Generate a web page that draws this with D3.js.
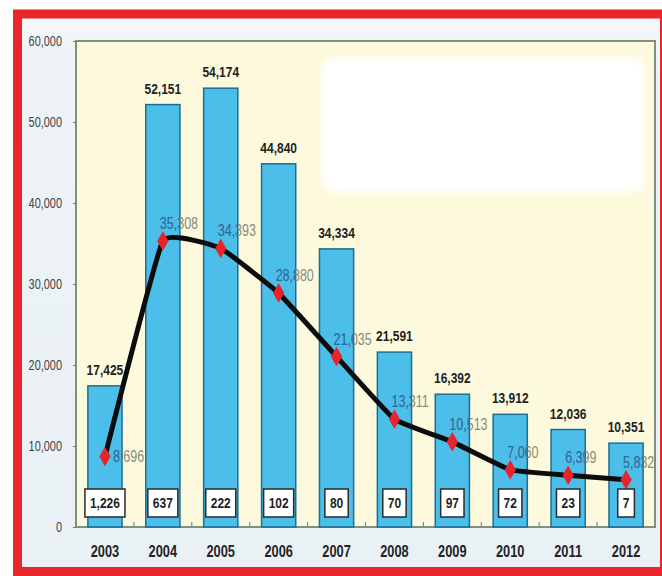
<!DOCTYPE html>
<html>
<head>
<meta charset="utf-8">
<script src="https://cdn.jsdelivr.net/npm/d3@7"></script>
<style>
  body { margin: 0; background: #fff; }
  svg { display: block; font-family: "Liberation Sans", Arial, sans-serif; }
</style>
</head>
<body>
<div id="chart"></div>
<script>
// values
const years = ["2003","2004","2005","2006","2007","2008","2009","2010","2011","2012"];
const barValues = [17425, 52151, 54174, 44840, 34334, 21591, 16392, 13912, 12036, 10351];
const lineValues = [8696, 35308, 34393, 28880, 21035, 13311, 10513, 7060, 6399, 5832];
const boxValues = [1226, 637, 222, 102, 80, 70, 97, 72, 23, 7];
const yTicks = [0, 10000, 20000, 30000, 40000, 50000, 60000];

const W = 662, H = 576;
const plot = { left: 76, right: 655, top: 41, bottom: 527 };
const fmt = d3.format(",");

// no narrow font installed: squeeze glyphs horizontally instead
function narrow(sel, k = 0.8) {
  sel.each(function() {
    const w = this.getComputedTextLength();
    d3.select(this).attr("textLength", w * k).attr("lengthAdjust", "spacingAndGlyphs");
  });
}

const svg = d3.select("#chart").append("svg").attr("width", W).attr("height", H);
const defs = svg.append("defs");
defs.append("filter").attr("id", "soft").append("feGaussianBlur").attr("stdDeviation", 3);
const bgGrad = defs.append("linearGradient").attr("id", "bg").attr("x1", 0).attr("x2", 0).attr("y1", 0).attr("y2", 1);
bgGrad.append("stop").attr("offset", 0).attr("stop-color", "#f7fafb");
bgGrad.append("stop").attr("offset", 0.08).attr("stop-color", "#edf3f6");
bgGrad.append("stop").attr("offset", 1).attr("stop-color", "#eaf1f5");

// frame background + red border
svg.append("rect").attr("x", 13).attr("y", 10).attr("width", W).attr("height", H)
  .attr("fill", "url(#bg)");
svg.append("rect").attr("x", 17.5).attr("y", 14).attr("width", 647).attr("height", 557.5)
  .attr("fill", "none").attr("stroke", "#e8262b").attr("stroke-width", 9);

// plot area
svg.append("rect").attr("x", plot.left).attr("y", plot.top)
  .attr("width", plot.right - plot.left).attr("height", plot.bottom - plot.top)
  .attr("fill", "#fdf9dc").attr("stroke", "#7f8f80").attr("stroke-width", 2);

// erased legend patch
svg.append("rect").attr("x", 322).attr("y", 58).attr("width", 322).attr("height", 134)
  .attr("rx", 12).attr("fill", "#ffffff").attr("filter", "url(#soft)");

const x = d3.scaleBand().domain(years).range([plot.left, plot.right])
  .paddingInner(0.41).paddingOuter(0.205);
const y = d3.scaleLinear().domain([0, 60000]).range([plot.bottom, plot.top]);

// y axis
const yAxis = svg.append("g").attr("transform", `translate(${plot.left},0)`)
  .call(d3.axisLeft(y).tickValues(yTicks).tickFormat(fmt).tickSize(3).tickPadding(11));
yAxis.select(".domain").remove();
yAxis.selectAll("line").attr("stroke", "#777");
yAxis.selectAll("text").attr("font-size", 14).attr("fill", "#3c4448").call(narrow, 0.78);

// x axis: small inward ticks between categories
const step = x.step();
svg.append("g").selectAll("line").data(years.slice(1)).join("line")
  .attr("x1", d => x(d) - (step - x.bandwidth()) / 2).attr("x2", d => x(d) - (step - x.bandwidth()) / 2)
  .attr("y1", plot.bottom).attr("y2", plot.bottom - 5)
  .attr("stroke", "#7f8f80").attr("stroke-width", 1.2);
svg.append("g").selectAll("text").data(years).join("text")
  .attr("x", d => x(d) + x.bandwidth() / 2).attr("y", 557)
  .attr("text-anchor", "middle").attr("font-size", 16).attr("font-weight", "bold")
  .attr("fill", "#1f2326").text(d => d).call(narrow, 0.8);

// bars
const bars = years.map((d, i) => ({ year: d, v: barValues[i] }));
svg.append("g").selectAll("rect").data(bars).join("rect")
  .attr("x", d => x(d.year)).attr("y", d => y(d.v))
  .attr("width", x.bandwidth()).attr("height", d => plot.bottom - y(d.v))
  .attr("fill", "#4bbfea").attr("stroke", "#1d6d92").attr("stroke-width", 1.5);

// clip path of bar areas, to tint the line labels where they cross a bar
defs.append("clipPath").attr("id", "barclip").selectAll("rect").data(bars).join("rect")
  .attr("x", d => x(d.year)).attr("y", d => y(d.v))
  .attr("width", x.bandwidth()).attr("height", d => plot.bottom - y(d.v));

svg.append("g").selectAll("text").data(bars).join("text")
  .attr("x", d => x(d.year) + x.bandwidth() / 2).attr("y", d => y(d.v) - 11)
  .attr("text-anchor", "middle").attr("font-size", 15).attr("font-weight", "bold")
  .attr("fill", "#1f1f1f").text(d => fmt(d.v)).call(narrow, 0.8);

// line + markers
const pts = years.map((d, i) => ({ year: d, v: lineValues[i], i }));
const cx = d => x(d.year) + x.bandwidth() / 2;
svg.append("path").datum(pts)
  .attr("d", d3.line().x(cx).y(d => y(d.v)).curve(d3.curveCardinal.tension(0.7)))
  .attr("fill", "none").attr("stroke", "#0c0c0c").attr("stroke-width", 5)
  .attr("stroke-linejoin", "round");
svg.append("g").selectAll("path").data(pts).join("path")
  .attr("transform", d => `translate(${cx(d)},${y(d.v)})`)
  .attr("d", d3.symbol(d3.symbolDiamond, 110))
  .attr("fill", "#e8232c");

// line value labels: gray on background, blue over the bars
const lblX = d => d.i === 0 ? cx(d) + 8 : cx(d) - 3;
const lblY = d => d.i === 0 ? y(d.v) + 5 : y(d.v) - 12;
function lineLabels(g, color) {
  g.selectAll("text").data(pts).join("text")
    .attr("x", lblX).attr("y", lblY)
    .attr("font-size", 16).attr("fill", color).text(d => fmt(d.v)).call(narrow, 0.78);
}
svg.append("g").call(lineLabels, "#8a8a7c");
svg.append("g").attr("clip-path", "url(#barclip)").call(lineLabels, "#1f6fb0");

// boxed values at the bottom of the bars
const boxes = svg.append("g").selectAll("g").data(years.map((d, i) => ({ year: d, v: boxValues[i] })))
  .join("g").attr("transform", d => `translate(${x(d.year) + x.bandwidth() / 2},503)`);
boxes.append("text").attr("text-anchor", "middle").attr("dy", "0.36em")
  .attr("font-size", 15).attr("font-weight", "bold").attr("fill", "#1f1f1f")
  .text(d => fmt(d.v))
  .each(function() {
    const w = this.getComputedTextLength() * 0.8;
    d3.select(this).attr("textLength", w).attr("lengthAdjust", "spacingAndGlyphs");
    d3.select(this.parentNode).insert("rect", "text")
      .attr("x", -w / 2 - 5).attr("y", -14).attr("width", w + 10).attr("height", 28)
      .attr("fill", "#fff").attr("stroke", "#2a2a2a").attr("stroke-width", 1.5);
  });
</script>
</body>
</html>
